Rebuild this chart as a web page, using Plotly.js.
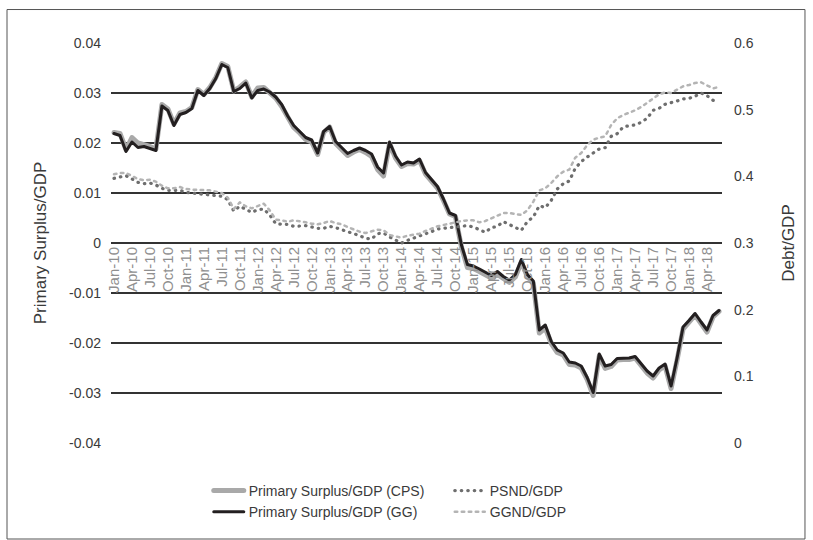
<!DOCTYPE html>
<html>
<head>
<meta charset="utf-8">
<script src="https://cdn.plot.ly/plotly-3.0.1.min.js"></script>
<style>
html,body{margin:0;padding:0;background:#fff;}
#chart{width:813px;height:540px;}
#chart path.js-line{stroke-linecap:round;stroke-linejoin:round;}
</style>
</head>
<body>
<div id="chart"></div>
<script>
// Monthly categories, Jan-10 .. Jun-18
const months = [
 'Jan-10','Feb-10','Mar-10','Apr-10','May-10','Jun-10','Jul-10','Aug-10','Sep-10','Oct-10','Nov-10','Dec-10',
 'Jan-11','Feb-11','Mar-11','Apr-11','May-11','Jun-11','Jul-11','Aug-11','Sep-11','Oct-11','Nov-11','Dec-11',
 'Jan-12','Feb-12','Mar-12','Apr-12','May-12','Jun-12','Jul-12','Aug-12','Sep-12','Oct-12','Nov-12','Dec-12',
 'Jan-13','Feb-13','Mar-13','Apr-13','May-13','Jun-13','Jul-13','Aug-13','Sep-13','Oct-13','Nov-13','Dec-13',
 'Jan-14','Feb-14','Mar-14','Apr-14','May-14','Jun-14','Jul-14','Aug-14','Sep-14','Oct-14','Nov-14','Dec-14',
 'Jan-15','Feb-15','Mar-15','Apr-15','May-15','Jun-15','Jul-15','Aug-15','Sep-15','Oct-15','Nov-15','Dec-15',
 'Jan-16','Feb-16','Mar-16','Apr-16','May-16','Jun-16','Jul-16','Aug-16','Sep-16','Oct-16','Nov-16','Dec-16',
 'Jan-17','Feb-17','Mar-17','Apr-17','May-17','Jun-17','Jul-17','Aug-17','Sep-17','Oct-17','Nov-17','Dec-17',
 'Jan-18','Feb-18','Mar-18','Apr-18','May-18','Jun-18'
];
const tickLabels = [
 'Jan-10','Apr-10','Jul-10','Oct-10','Jan-11','Apr-11','Jul-11','Oct-11',
 'Jan-12','Apr-12','Jul-12','Oct-12','Jan-13','Apr-13','Jul-13','Oct-13',
 'Jan-14','Apr-14','Jul-14','Oct-14','Jan-15','Apr-15','Jul-15','Oct-15',
 'Jan-16','Apr-16','Jul-16','Oct-16','Jan-17','Apr-17','Jul-17','Oct-17',
 'Jan-18','Apr-18'
];
const leftTicks = [0.04,0.03,0.02,0.01,0,-0.01,-0.02,-0.03,-0.04];
const leftTickText = ['0.04','0.03','0.02','0.01','0','-0.01','-0.02','-0.03','-0.04'];
const rightTicks = [0.6,0.5,0.4,0.3,0.2,0.1,0];
const rightTickText = ['0.6','0.5','0.4','0.3','0.2','0.1','0'];

// Primary Surplus/GDP (CPS)
const cps = [
 0.0221,0.0219,0.0187,0.0211,0.0200,0.0197,0.0193,0.0188,0.0277,0.0268,0.0238,0.0260,
 0.0263,0.0271,0.0307,0.0297,0.0311,0.0331,0.0359,0.0353,0.0304,0.0312,0.0322,0.0292,
 0.0310,0.0311,0.0302,0.0290,0.0273,0.0250,0.0231,0.0220,0.0207,0.0202,0.0177,0.0221,
 0.0232,0.0199,0.0186,0.0175,0.0182,0.0187,0.0181,0.0173,0.0147,0.0134,0.0199,0.0170,
 0.0153,0.0159,0.0158,0.0165,0.0138,0.0123,0.0110,0.0085,0.0058,0.0053,-0.0008,-0.0049,
 -0.0051,-0.0057,-0.0063,-0.0070,-0.0063,-0.0072,-0.0079,-0.0068,-0.0038,-0.0067,-0.0080,-0.0180,
 -0.0170,-0.0201,-0.0219,-0.0224,-0.0243,-0.0244,-0.0250,-0.0273,-0.0305,-0.0226,-0.0251,-0.0247,
 -0.0234,-0.0233,-0.0233,-0.0230,-0.0245,-0.0260,-0.0270,-0.0254,-0.0246,-0.0291,-0.0234,-0.0172,
 -0.0158,-0.0144,-0.0161,-0.0178,-0.0148,-0.0137
];
// Primary Surplus/GDP (GG)
const gg = [
 0.0219,0.0215,0.0183,0.0202,0.0191,0.0193,0.0189,0.0185,0.0274,0.0265,0.0235,0.0257,
 0.0261,0.0269,0.0305,0.0295,0.0309,0.0329,0.0357,0.0351,0.0303,0.0309,0.0320,0.0290,
 0.0305,0.0308,0.0302,0.0292,0.0277,0.0254,0.0235,0.0224,0.0211,0.0206,0.0180,0.0223,
 0.0233,0.0203,0.0190,0.0179,0.0185,0.0190,0.0185,0.0178,0.0152,0.0140,0.0202,0.0174,
 0.0156,0.0162,0.0160,0.0168,0.0141,0.0126,0.0113,0.0088,0.0060,0.0055,-0.0004,-0.0043,
 -0.0046,-0.0052,-0.0058,-0.0065,-0.0057,-0.0067,-0.0074,-0.0063,-0.0033,-0.0063,-0.0076,-0.0174,
 -0.0164,-0.0197,-0.0214,-0.0220,-0.0238,-0.0240,-0.0246,-0.0269,-0.0299,-0.0222,-0.0246,-0.0243,
 -0.0231,-0.0230,-0.0230,-0.0227,-0.0242,-0.0256,-0.0266,-0.0250,-0.0242,-0.0286,-0.0230,-0.0168,
 -0.0155,-0.0141,-0.0158,-0.0174,-0.0145,-0.0135
];
// PSND/GDP
const psnd = [
 0.397,0.399,0.401,0.396,0.391,0.389,0.390,0.387,0.382,0.379,0.379,0.379,
 0.376,0.375,0.375,0.374,0.373,0.372,0.370,0.365,0.348,0.355,0.350,0.346,
 0.350,0.351,0.342,0.329,0.328,0.328,0.325,0.326,0.326,0.324,0.322,0.322,
 0.325,0.323,0.320,0.318,0.314,0.311,0.307,0.306,0.314,0.315,0.309,0.304,
 0.300,0.304,0.307,0.310,0.314,0.317,0.321,0.322,0.324,0.324,0.326,0.326,
 0.324,0.320,0.316,0.323,0.325,0.332,0.328,0.323,0.319,0.332,0.339,0.356,
 0.353,0.364,0.381,0.389,0.393,0.412,0.422,0.429,0.435,0.441,0.443,0.460,
 0.464,0.474,0.476,0.477,0.481,0.487,0.499,0.502,0.508,0.510,0.513,0.516,
 0.517,0.520,0.525,0.521,0.514,0.512
];
// GGND/GDP
const ggnd = [
 0.403,0.405,0.405,0.400,0.396,0.394,0.395,0.392,0.386,0.382,0.382,0.384,
 0.381,0.380,0.380,0.379,0.379,0.377,0.375,0.368,0.351,0.361,0.355,0.352,
 0.355,0.359,0.349,0.335,0.334,0.332,0.334,0.333,0.331,0.329,0.328,0.330,
 0.333,0.330,0.328,0.324,0.320,0.317,0.315,0.318,0.320,0.319,0.312,0.310,
 0.308,0.311,0.312,0.314,0.318,0.322,0.325,0.327,0.329,0.332,0.333,0.334,
 0.334,0.331,0.333,0.337,0.341,0.345,0.345,0.343,0.342,0.349,0.362,0.379,
 0.382,0.390,0.400,0.407,0.410,0.428,0.435,0.447,0.455,0.458,0.460,0.477,
 0.487,0.492,0.495,0.499,0.504,0.510,0.516,0.523,0.526,0.525,0.530,0.535,
 0.537,0.540,0.541,0.536,0.532,0.534
];

const FONT = 'Liberation Sans, Arial, sans-serif';

const traces = [
  {x: months, y: cps, name: 'Primary Surplus/GDP (CPS)', type: 'scatter', mode: 'lines',
   line: {color: '#a9a9a9', width: 5}, yaxis: 'y', hoverinfo: 'skip'},
  {x: months, y: psnd, name: 'PSND/GDP', type: 'scatter', mode: 'lines',
   line: {color: '#6e6e6e', width: 3.2, dash: '0.5px,6px'}, yaxis: 'y2', hoverinfo: 'skip'},
  {x: months, y: gg, name: 'Primary Surplus/GDP (GG)', type: 'scatter', mode: 'lines',
   line: {color: '#231f20', width: 3}, yaxis: 'y', hoverinfo: 'skip'},
  {x: months, y: ggnd, name: 'GGND/GDP', type: 'scatter', mode: 'lines',
   line: {color: '#b4b4b4', width: 2.5, dash: '2.5px,4.5px'}, yaxis: 'y2', hoverinfo: 'skip'}
];

const layout = {
  width: 813, height: 540,
  margin: {l: 111, r: 91, t: 43, b: 91, pad: 0},
  paper_bgcolor: '#ffffff', plot_bgcolor: '#ffffff',
  font: {family: FONT, color: '#3a3a3a'},
  showlegend: true,
  legend: {
    orientation: 'h', x: 0.16, xanchor: 'left', y: -0.08, yanchor: 'top',
    entrywidth: 196, entrywidthmode: 'pixels', traceorder: 'normal',
    font: {family: FONT, size: 14, color: '#3a3a3a'}, bgcolor: 'rgba(0,0,0,0)',
    tracegroupgap: 0, itemclick: false
  },
  xaxis: {
    type: 'category', range: [-0.5, 101.5], tickmode: 'array',
    tickvals: tickLabels, ticktext: tickLabels, tickangle: -90,
    anchor: 'free', position: 0.5, showgrid: false, showline: false, zeroline: false,
    ticks: '', automargin: false,
    tickfont: {family: FONT, size: 15, color: '#8f8f8f'}
  },
  yaxis: {
    range: [-0.04, 0.04], tickmode: 'array', tickvals: leftTicks, ticktext: leftTickText,
    showgrid: true, gridcolor: '#333333', gridwidth: 1.3, zeroline: false, showline: false,
    ticks: '', automargin: false, ticklabelstandoff: 9,
    tickfont: {family: FONT, size: 14, color: '#3a3a3a'},
    title: {text: 'Primary Surplus/GDP', font: {family: FONT, size: 17, color: '#3a3a3a'}, standoff: 18}
  },
  yaxis2: {
    overlaying: 'y', side: 'right', range: [0, 0.6], tickmode: 'array',
    tickvals: rightTicks, ticktext: rightTickText,
    showgrid: false, zeroline: false, showline: false, ticks: '', automargin: false,
    ticklabelstandoff: 11,
    tickfont: {family: FONT, size: 14, color: '#3a3a3a'},
    title: {text: 'Debt/GDP', font: {family: FONT, size: 17, color: '#3a3a3a'}, standoff: 29}
  },
  shapes: [
    {type: 'rect', xref: 'paper', yref: 'paper', x0: -0.1702, x1: 1.1358, y0: -0.24, y1: 1.0837,
     line: {color: '#555555', width: 1}, fillcolor: 'rgba(0,0,0,0)', layer: 'below'}
  ]
};

Plotly.newPlot('chart', traces, layout, {staticPlot: true, displayModeBar: false});
</script>
</body>
</html>
